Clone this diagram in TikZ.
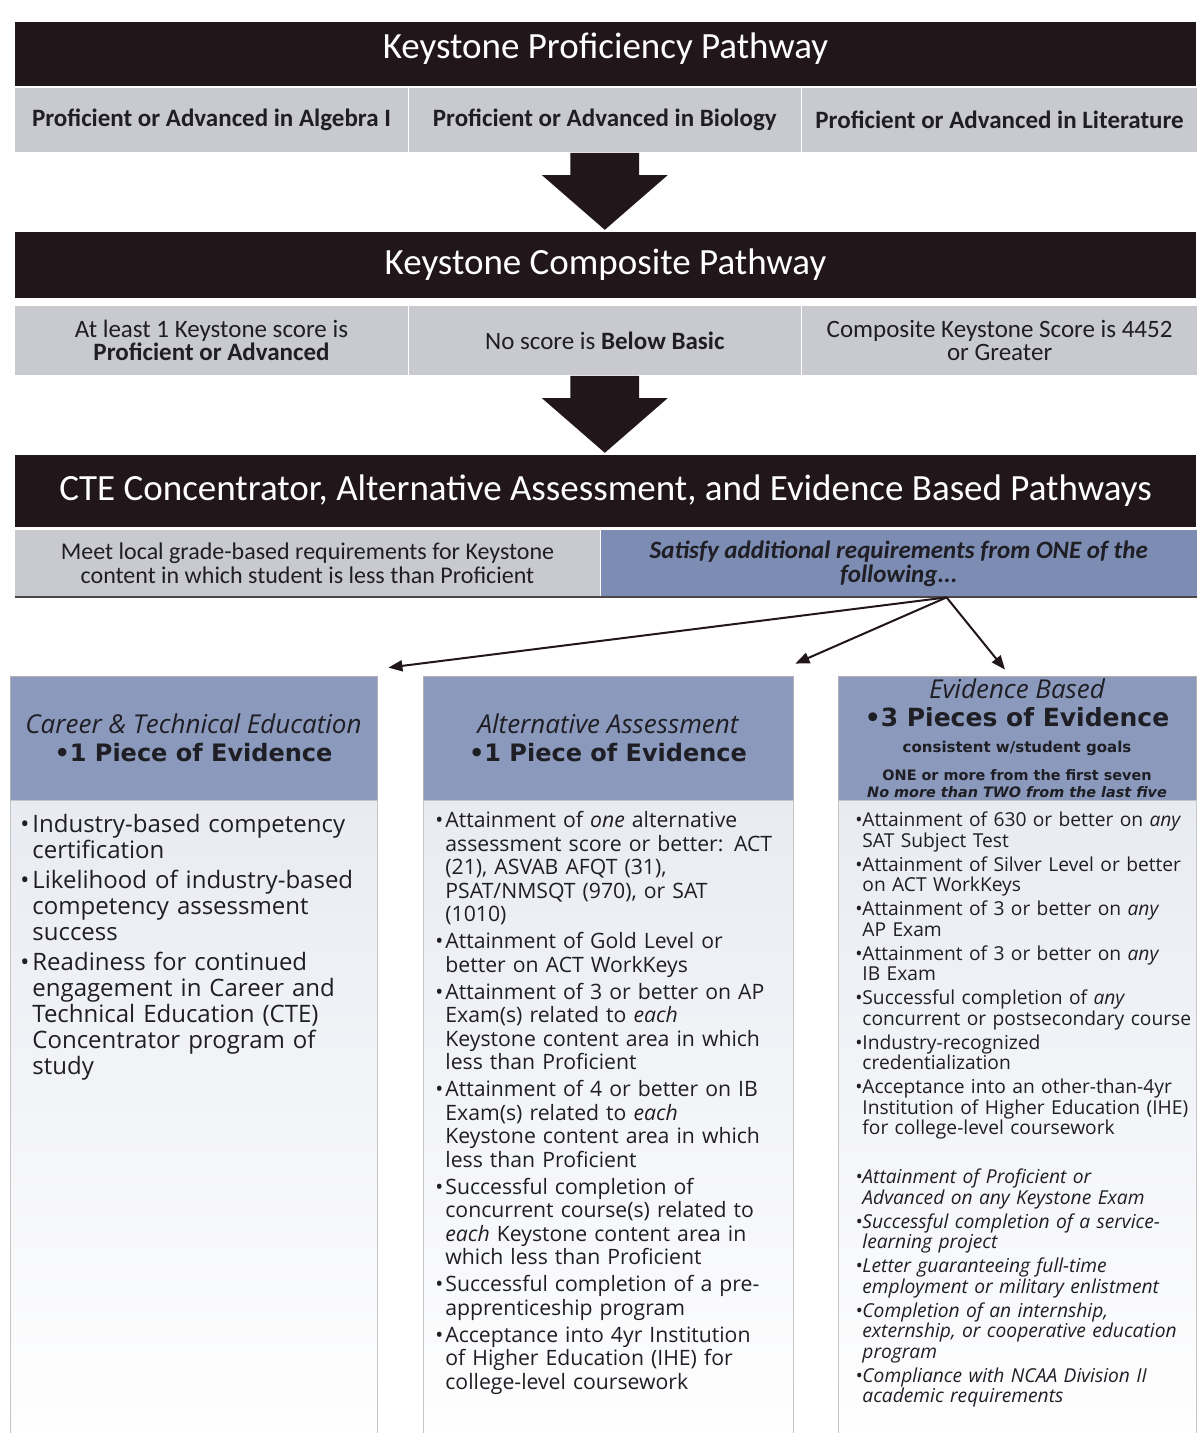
\documentclass[tikz,border=0pt]{standalone}
\usepackage{fontspec}
\setmainfont{Carlito}
\newfontfamily\colfont{Open Sans}
\newfontfamily\hdfont{DejaVu Sans}
\usetikzlibrary{positioning,arrows.meta,shapes.arrows,calc}
\definecolor{ink}{HTML}{211619}
\definecolor{stone}{HTML}{C9CACF}
\definecolor{steel}{HTML}{7D8CB3}
\definecolor{haze}{HTML}{8B99BC}
\definecolor{mist}{HTML}{E9EBF2}
\definecolor{txt}{HTML}{1E1E24}
\newcommand{\bitem}[1][2pt]{\par\vspace{#1}\noindent\llap{\makebox[\leftskip][l]{\textbullet}}\ignorespaces}
\tikzset{bar/.style={fill=ink,text=white,minimum width=590.5pt,inner sep=0pt,font=\fontsize{18.5}{20}\selectfont},
         cell/.style={fill=stone,inner sep=0pt,align=center,text=txt,font=\fontsize{12.5}{11.5}\selectfont},
         hdr/.style={fill=haze,draw=gray!60,minimum height=62pt,align=center,text=txt,inner sep=0pt,font=\colfont\fontsize{13}{14}\selectfont},
         body/.style={draw=gray!45,top color=mist,bottom color=white!96!mist,minimum height=316.5pt,inner sep=0pt},
         items/.style={text=txt,anchor=north west,inner sep=0pt,align=left},
         bigarr/.style={single arrow,fill=ink,rotate=-90,anchor=tail,minimum height=38.5pt,inner xsep=0pt,inner ysep=17pt,single arrow head extend=14.25pt,single arrow tip angle=98},
         arr/.style={-{Triangle[length=7pt,width=5.5pt]},line width=1pt,ink}}
\begin{document}
\begin{tikzpicture}[x=0.5pt,y=-0.5pt]
\useasboundingbox[fill=white] (0,0) rectangle (1196,1433);
% proficiency pathway
\node[bar,minimum height=32pt,text depth=8.5pt] (kp) at (605.5,54) {Keystone Proficiency Pathway};
\node[cell,minimum width=196.5pt,minimum height=32pt] (alg) at (211.5,120) {\textbf{Proficient or Advanced in Algebra I}};
\node[cell,minimum width=196pt,minimum height=32pt,right=0pt of alg] (bio) {\textbf{Proficient or Advanced in Biology}};
\node[cell,minimum width=198pt,minimum height=32pt,right=0pt of bio] (lit) {\textbf{Proficient or Advanced in Literature}};
\node[bigarr] (a1) at (bio.south) {};
% composite pathway
\node[bar,minimum height=33pt] (kc) at (605.5,265) {Keystone Composite Pathway};
\node[cell,minimum width=196.5pt,minimum height=34.5pt] (one) at (211.5,340.5) {At least 1 Keystone score is\\\textbf{Proficient or Advanced}};
\node[cell,minimum width=196pt,minimum height=34.5pt,right=0pt of one] (nobb) {No score is \textbf{Below Basic}};
\node[cell,minimum width=198pt,minimum height=34.5pt,right=0pt of nobb] (comp) {Composite Keystone Score is 4452\\or Greater};
\node[bigarr] (a2) at (nobb.south) {};
% cte / alternative / evidence
\node[bar,minimum height=36pt] (cteb) at (605.5,491) {CTE Concentrator, Alternative Assessment, and Evidence Based Pathways};
\node[cell,minimum width=292.5pt,minimum height=33.5pt,font=\fontsize{12}{12}\selectfont] (meet) at (307.5,563.5) {Meet local grade-based requirements for Keystone\\content in which student is less than Proficient};
\node[cell,fill=steel,minimum width=298pt,minimum height=33.5pt,font=\bfseries\itshape\fontsize{12.5}{12}\selectfont,right=0pt of meet] (sat) {Satisfy additional requirements from ONE of the\\following...};
\draw[ink!80,line width=1pt] (meet.south west) -- (sat.south east);
% three pathways
\node[hdr,minimum width=183.5pt] (cte) at (193.5,738) {{\itshape Career \& Technical Education}\\{\hdfont\bfseries\fontsize{12}{14}\selectfont •1 Piece of Evidence}};
\node[hdr,minimum width=185pt] (alt) at (608,738) {{\itshape Alternative Assessment}\\{\hdfont\bfseries\fontsize{12}{14}\selectfont •1 Piece of Evidence}};
\node[hdr,minimum width=179pt] (evb) at (1017,738) {{\itshape Evidence Based}\\{\hdfont\bfseries\fontsize{12.5}{14}\selectfont •3 Pieces of Evidence}\\[-1pt]{\hdfont\bfseries\fontsize{7.5}{9}\selectfont consistent w/student goals}\\{\hdfont\bfseries\fontsize{7.2}{9}\selectfont ONE or more from the first seven}\\[-5.5pt]{\hdfont\bfseries\itshape\fontsize{7.2}{9}\selectfont No more than TWO from the last five}};
\node[body,minimum width=183.5pt,below=0pt of cte] (cteb2) {};
\node[body,minimum width=185pt,below=0pt of alt] (altb) {};
\node[body,minimum width=179pt,below=0pt of evb] (evbb) {};
\node[items,text width=176pt,font=\colfont\fontsize{12}{13}\selectfont] (ctel) at (20,806) {\leftskip=6pt\parskip=0pt
\bitem[0pt] Industry-based competency\\certification
\bitem Likelihood of industry-based\\competency assessment\\success
\bitem Readiness for continued\\engagement in Career and\\Technical Education (CTE)\\Concentrator program of\\study\par};
\node[items,text width=178pt,font=\colfont\fontsize{10.6}{11.75}\selectfont] (altl) at (435,804) {\leftskip=5pt\parskip=0pt
\bitem[0pt] Attainment of \emph{one} alternative\\assessment score or better: ACT\\(21), ASVAB AFQT (31),\\PSAT/NMSQT (970), or SAT\\(1010)
\bitem[1.75pt] Attainment of Gold Level or\\better on ACT WorkKeys
\bitem[1.75pt] Attainment of 3 or better on AP\\Exam(s) related to \emph{each}\\Keystone content area in which\\less than Proficient
\bitem[1.75pt] Attainment of 4 or better on IB\\Exam(s) related to \emph{each}\\Keystone content area in which\\less than Proficient
\bitem[1.75pt] Successful completion of\\concurrent course(s) related to\\\emph{each} Keystone content area in\\which less than Proficient
\bitem[1.75pt] Successful completion of a pre-\\apprenticeship program
\bitem[1.75pt] Acceptance into 4yr Institution\\of Higher Education (IHE) for\\college-level coursework\par};
\node[items,text width=172pt,font=\colfont\fontsize{9.6}{10.25}\selectfont] (evbl) at (855,806) {\leftskip=3.5pt\parskip=0pt
\bitem[0pt] Attainment of 630 or better on \emph{any}\\SAT Subject Test
\bitem[1.75pt] Attainment of Silver Level or better\\on ACT WorkKeys
\bitem[1.75pt] Attainment of 3 or better on \emph{any}\\AP Exam
\bitem[1.75pt] Attainment of 3 or better on \emph{any}\\IB Exam
\bitem[1.75pt] Successful completion of \emph{any}\\concurrent or postsecondary course
\bitem[1.75pt] Industry-recognized\\credentialization
\bitem[1.75pt] Acceptance into an other-than-4yr\\Institution of Higher Education (IHE)\\for college-level coursework
\par\vspace{12.5pt}\itshape
\bitem[1.75pt] Attainment of Proficient or\\Advanced on any Keystone Exam
\bitem[1.75pt] Successful completion of a service-\\learning project
\bitem[1.75pt] Letter guaranteeing full-time\\employment or military enlistment
\bitem[1.75pt] Completion of an internship,\\externship, or cooperative education\\program
\bitem[1.75pt] Compliance with NCAA Division II\\academic requirements\par};
% fork from the blue cell
\coordinate (fork) at ($(sat.south west)!0.58!(sat.south east)$);
\coordinate (toA) at ($(cte.north east)+(11,-8)$);
\coordinate (toB) at ($(alt.north east)+(2,-12)$);
\coordinate (toC) at ($(evb.north)+(-12,-6)$);
\draw[arr] (fork) -- (toA);
\draw[arr] (fork) -- (toB);
\draw[arr] (fork) -- (toC);
\end{tikzpicture}
\end{document}
